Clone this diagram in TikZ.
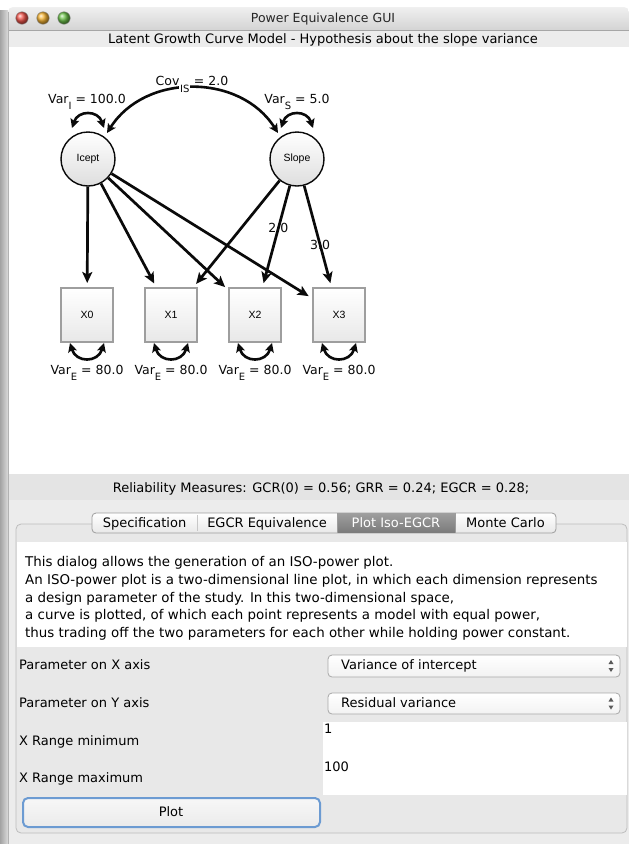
\documentclass[tikz,border=0pt]{standalone}
\usepackage{fontspec}
\setmainfont{DejaVu Sans}
\newfontfamily\nodefont{Liberation Sans}
\usetikzlibrary{arrows.meta}

\definecolor{winbg}{HTML}{ECECEC}
\definecolor{bandbg}{HTML}{E4E4E4}
\definecolor{panelbg}{HTML}{E8E8E8}
\definecolor{panelrule}{HTML}{BDBDBD}
\definecolor{tabrule}{HTML}{9D9D9D}
\definecolor{focusblue}{HTML}{6C9BD2}
\definecolor{boxrule}{HTML}{9E9E9E}
\definecolor{ink}{HTML}{0A0A0A}
\definecolor{combrule}{HTML}{A9A9A9}
\definecolor{lightred}{HTML}{F2564C}
\definecolor{lightamber}{HTML}{F7B534}
\definecolor{lightgreen}{HTML}{6CC24A}

% lowered subscript used in the parameter labels
\newcommand\lowsub[1]{\raisebox{-6pt}{\fontsize{10}{10}\selectfont #1}}
\newcommand\lowsubw[1]{\raisebox{-7.6pt}{\fboxsep=0.6pt\colorbox{white}{\fontsize{10}{10}\selectfont #1}}}

\tikzset{
  ui/.style={font=\fontsize{13}{15}\selectfont, text=black, inner sep=0pt},
  desc/.style={font=\fontsize{13.4}{15}\selectfont, text=black, inner sep=0pt, anchor=base west},
  lbl/.style={font=\fontsize{12.5}{14}\selectfont, inner sep=0pt, text=ink},
  lv/.style={circle, minimum size=54pt, inner sep=0pt, draw=ink, line width=1.4pt,
    top color=white, bottom color=black!13, font=\nodefont\fontsize{10.5}{12}\selectfont},
  ov/.style={rectangle, minimum width=52pt, minimum height=54pt, inner sep=0pt,
    draw=boxrule, line width=2pt, top color=white, bottom color=black!9,
    font=\nodefont\fontsize{10.5}{12}\selectfont},
  regr/.style={line width=2.7pt, draw=ink, -{Stealth[length=11pt,width=10pt,inset=2.5pt]}, shorten >=4pt},
  twoway/.style={line width=2.6pt, draw=ink,
    {Stealth[length=9pt,width=9pt,inset=2pt]}-{Stealth[length=9pt,width=9pt,inset=2pt]}},
  combo/.style={draw=combrule, line width=0.8pt, rounded corners=4pt, top color=white, bottom color=black!5},
  light/.style={shading=ball, draw=black!40, line width=0.4pt},
}

\begin{document}
\begin{tikzpicture}[x=1pt, y=-1pt]
\useasboundingbox (0,0) rectangle (629,844);
\fill[white] (0,0) rectangle (629,844);

% ---------- window frame ----------
\shade[left color=black!36, right color=black!14] (0,10) rectangle (8,844);
\fill[winbg] (8,30) rectangle (629,844);
\shade[top color=black!6, bottom color=black!17, rounded corners=5pt]
  (8,30) -- (8,7) -- (629,7) [sharp corners] -- (629,30) -- cycle;
\draw[black!35, line width=0.8pt] (8,30) -- (629,30);
\draw[black!30, line width=0.6pt] (8,12) -- (8,844);
\shade[light, ball color=lightred]   (22,18) circle (6.3pt);
\shade[light, ball color=lightamber] (43,18) circle (6.3pt);
\shade[light, ball color=lightgreen] (64,18) circle (6.3pt);
\node[font=\fontsize{12.5}{14}\selectfont, text=black!85, anchor=base, inner sep=0pt] (wtitle) at (323,22.5) {Power Equivalence GUI};

% subtitle band and drawing area
\fill[winbg] (8.5,30.5) rectangle (629,47);
\node[ui, anchor=base] (subtitle) at (323,43) {Latent Growth Curve Model - Hypothesis about the slope variance};
\fill[white] (8.5,47) rectangle (629,474);

% ---------- path model ----------
\node[lv] (icept) at (88,159) {Icept};
\node[lv] (slope) at (297,159) {Slope};
\node[ov] (x0) at (87,315) {X0};
\node[ov] (x1) at (171,315) {X1};
\node[ov] (x2) at (255,315) {X2};
\node[ov] (x3) at (339,315) {X3};

\draw[regr] (icept) -- (x0);
\draw[regr] (icept) -- (x1);
\draw[regr] (icept) -- (x2);
\draw[regr] (icept) -- (x3);
\draw[regr] (slope) -- (x1);
\draw[regr] (slope) -- node[lbl, pos=0.42] (l20) {2.0} (x2);
\draw[regr] (slope) -- node[lbl, pos=0.58] (l30) {3.0} (x3);

% variances of the latent variables
\coordinate (iL) at (72,128);  \coordinate (iR) at (104,128);
\coordinate (sL) at (281,128); \coordinate (sR) at (313,128);
\draw[twoway] (iL) .. controls (78,110) and (98,110) .. (iR);
\draw[twoway] (sL) .. controls (287,110) and (307,110) .. (sR);
% covariance between intercept and slope
\coordinate (cI) at (107,133); \coordinate (cS) at (278,133);
\draw[twoway] (cI) .. controls (145,73) and (240,73) .. (cS);

\node[lbl, anchor=base] (vari) at (87,103) {Var\lowsub{I} = 100.0};
\node[lbl, anchor=base] (vars) at (297,103) {Var\lowsub{S} = 5.0};
\node[lbl, anchor=base] (cov) at (192,85) {Cov\lowsubw{IS} = 2.0};

% residual variances
\foreach \b/\cx in {x0/87, x1/171, x2/255, x3/339} {
  \coordinate (\b L) at (\cx-17,343);
  \coordinate (\b R) at (\cx+17,343);
  \draw[twoway] (\b L) .. controls (\cx-11,363) and (\cx+11,363) .. (\b R);
  \node[lbl, anchor=base] (\b var) at (\cx,374) {Var\lowsub{E} = 80.0};
}

% ---------- reliability band ----------
\fill[bandbg] (8.5,474) rectangle (629,500);
\node[ui, anchor=base] (rel) at (321,492.5) {Reliability Measures: GCR(0) = 0.56; GRR = 0.24; EGCR = 0.28;};

% ---------- tab panel ----------
\filldraw[fill=panelbg, draw=panelrule, line width=0.8pt, rounded corners=5pt] (16,524) rectangle (627,833);
\fill[white] (17,542) rectangle (626.5,647);
\shadedraw[top color=white, bottom color=black!9, draw=tabrule, line width=0.8pt, rounded corners=4pt]
  (92,513) rectangle (556,533);
\shade[top color=black!38, bottom color=black!52] (337,513.4) rectangle (455,532.6);
\draw[black!22, line width=0.8pt] (197,515) -- (197,531);
\draw[tabrule, line width=0.8pt] (337,513) -- (337,533) (455,513) -- (455,533);
\node[ui, anchor=base] (tspec) at (144.5,527.5) {Specification};
\node[ui, anchor=base] (tegcr) at (267,527.5) {EGCR Equivalence};
\node[ui, anchor=base, text=white] (tplot) at (396,527.5) {Plot Iso-EGCR};
\node[ui, anchor=base] (tmc) at (505.5,527.5) {Monte Carlo};

% description text
\node[desc] (d1) at (25,566.5) {This dialog allows the generation of an ISO-power plot.};
\node[desc] (d2) at (25,584.3) {An ISO-power plot is a two-dimensional line plot, in which each dimension represents};
\node[desc] (d3) at (25,602.1) {a design parameter of the study. In this two-dimensional space,};
\node[desc] (d4) at (25,619.9) {a curve is plotted, of which each point represents a model with equal power,};
\node[desc] (d5) at (25,637.7) {thus trading off the two parameters for each other while holding power constant.};

% form
\node[ui, anchor=base west] (fx) at (19,669.5) {Parameter on X axis};
\node[ui, anchor=base west] (fy) at (19,707.5) {Parameter on Y axis};
\node[ui, anchor=base west] (fmin) at (19,745) {X Range minimum};
\node[ui, anchor=base west] (fmax) at (19,782) {X Range maximum};

\shadedraw[combo] (328,655) rectangle (620,677);
\node[ui, anchor=base west] (cx) at (341,669.5) {Variance of intercept};
\fill[black!65] (608.5,664) -- (613.5,664) -- (611,660) -- cycle;
\fill[black!65] (608.5,668) -- (613.5,668) -- (611,672) -- cycle;

\shadedraw[combo] (328,693) rectangle (620,714);
\node[ui, anchor=base west] (cy) at (341,707.5) {Residual variance};
\fill[black!65] (608.5,701.5) -- (613.5,701.5) -- (611,697.5) -- cycle;
\fill[black!65] (608.5,705.5) -- (613.5,705.5) -- (611,709.5) -- cycle;

\fill[white] (323,722) rectangle (626.5,795);
\node[ui, anchor=base west] (vmin) at (324,733.5) {1};
\node[ui, anchor=base west] (vmax) at (324,771) {100};

\shadedraw[top color=black!3, bottom color=black!8, draw=focusblue, line width=2pt, rounded corners=5pt]
  (23,798) rectangle (320,827);
\node[ui, anchor=base] (plotbtn) at (171,816.5) {Plot};
\end{tikzpicture}
\end{document}
